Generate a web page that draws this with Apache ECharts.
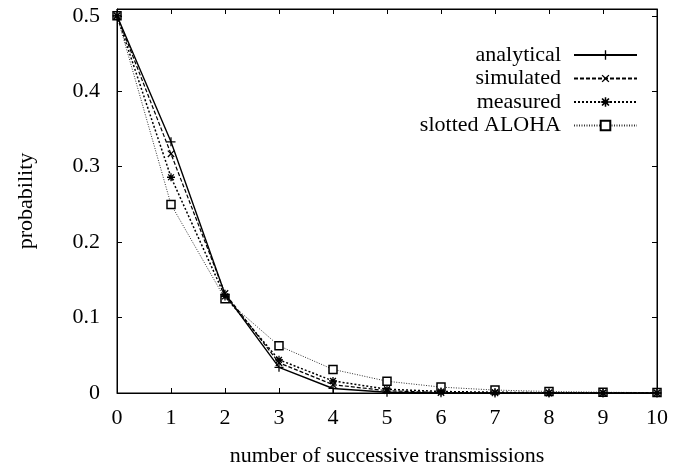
<!DOCTYPE html>
<html><head><meta charset="utf-8">
<script src="https://cdn.jsdelivr.net/npm/echarts@6/dist/echarts.min.js"></script>
<style>html,body{margin:0;padding:0;background:#fff}#c{width:687px;height:472px}</style>
</head><body><div id="c"></div>
<script>
const xValues = [0,1,2,3,4,5,6,7,8,9,10];
const seriesNames = ['analytical','simulated','measured','slotted ALOHA'];
const analytical = [0.5,0.333,0.131,0.034,0.006,0.001,0.0002,0,0,0,0];
const simulated = [0.5,0.317,0.132,0.040,0.011,0.003,0.0006,0.0001,0,0,0];
const measured = [0.5,0.286,0.128,0.044,0.016,0.005,0.002,0.001,0.0003,0.0001,0];
const slottedAloha = [0.5,0.25,0.125,0.0625,0.0313,0.0156,0.0078,0.0039,0.002,0.001,0.0005];
const yTicks = [0,0.1,0.2,0.3,0.4,0.5];

const FONT = 'Liberation Serif';
const FS = 22;
const plusPath = 'path://M4.3,0H5.7V4.3H10V5.7H5.7V10H4.3V5.7H0V4.3H4.3Z';
const starPath = 'path://M4.2,0H5.8V3L8,0.8L9.2,2L7,4.2H10V5.8H7L9.2,8L8,9.2L5.8,7V10H4.2V7L2,9.2L0.8,8L3,5.8H0V4.2H3L0.8,2L2,0.8L4.2,3Z';

function pairs(arr){ return xValues.map((x,i)=>[x,arr[i]]); }

const styles = [
  {data: analytical, symbol: plusPath, size: 9, rotate: 0, line: {type:'solid', width:1.4, color:'#000'}, item:{color:'#000'}},
  {data: simulated, symbol: plusPath, size: 9, rotate: 45, line: {type:[4,2], width:1.2, color:'#000'}, item:{color:'#000'}},
  {data: measured, symbol: starPath, size: 8, rotate: 0, line: {type:[2,2], width:1.5, color:'#000'}, item:{color:'#000'}},
  {data: slottedAloha, symbol: 'rect', size: 8, rotate: 0, line: {type:[1,1.5], width:1, color:'#333'}, item:{color:'#fff', borderColor:'#000', borderWidth:1.5}}
];

const series = seriesNames.map((n,i)=>({
  name: n, type: 'line', xAxisIndex: 0, yAxisIndex: 0,
  data: pairs(styles[i].data),
  symbol: styles[i].symbol, symbolSize: styles[i].size, symbolRotate: styles[i].rotate,
  showAllSymbol: true,
  lineStyle: styles[i].line, itemStyle: styles[i].item,
  emphasis: {disabled: true}, animation: false, z: 10 - i
}));

const legends = seriesNames.map((n,i)=>({
  data: [n], right: 49, top: 44 + i*23.5, orient: 'vertical', align: 'right',
  padding: 0,
  itemWidth: 63, itemHeight: 12, itemGap: 4,
  textStyle: {fontFamily: FONT, fontSize: FS, color: '#000', padding: [0,8,0,0]},
  selectedMode: false
}));

const axisCommon = {
  axisLine: {show: true, onZero: false, lineStyle: {color: '#000', width: 1}},
  axisTick: {show: true, inside: true, length: 5, lineStyle: {color: '#000'}},
  splitLine: {show: false}
};

function yFmt(v){
  for (const t of yTicks) { if (Math.abs(v - t) < 1e-9) return String(t); }
  return '';
}

const option = {
  animation: false,
  backgroundColor: '#fff',
  grid: {left: 117, right: 30, top: 9, bottom: 72, show: true, borderColor: '#000', borderWidth: 1, backgroundColor: 'transparent'},
  legend: legends,
  xAxis: [
    Object.assign({type:'value', min:0, max:10, interval:1, position:'bottom',
      name: 'number of successive transmissions', nameLocation: 'middle', nameGap: 52,
      nameTextStyle: {fontFamily: FONT, fontSize: FS, color: '#000'},
      axisLabel: {fontFamily: FONT, fontSize: FS, color: '#000', margin: 14}}, axisCommon),
    Object.assign({type:'value', min:0, max:10, interval:1, position:'top', axisLabel:{show:false}}, axisCommon)
  ],
  yAxis: [
    Object.assign({type:'value', min:0, max:0.509, interval:0.1, position:'left',
      name: 'probability', nameLocation: 'middle', nameGap: 80,
      nameTextStyle: {fontFamily: FONT, fontSize: FS, color: '#000'},
      axisLabel: {fontFamily: FONT, fontSize: FS, color: '#000', margin: 17, formatter: yFmt}}, axisCommon),
    Object.assign({type:'value', min:0, max:0.509, interval:0.1, position:'right', axisLabel:{show:false}}, axisCommon)
  ],
  series: series
};
const chart = echarts.init(document.getElementById('c'), null, {renderer: 'canvas'});
chart.setOption(option);
</script>
</body></html>
